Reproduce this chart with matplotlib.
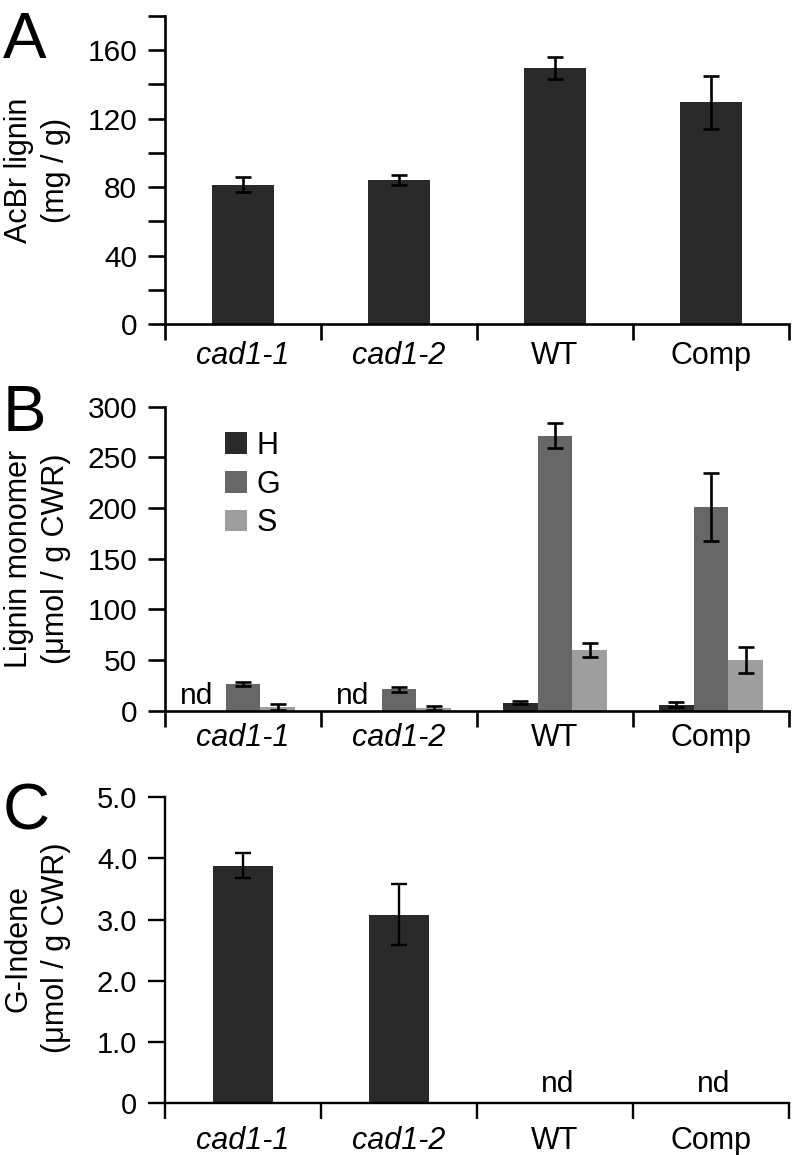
import matplotlib
matplotlib.use("Agg")
import matplotlib.pyplot as plt
from matplotlib.patches import Patch
import numpy as np

plt.rcParams['font.family'] = ['Liberation Sans', 'DejaVu Sans']

categories = ["cad1-1", "cad1-2", "WT", "Comp"]
italic_cats = [True, True, False, False]

# Panel A: AcBr lignin (mg/g)
acbr_mean = [81.5, 84, 149.5, 129.5]
acbr_err = [4.3, 3, 6.3, 15.6]

# Panel B: lignin monomers (umol / g CWR); nan = not detected
mono_H = [np.nan, np.nan, 8, 6]
mono_H_err = [0, 0, 1.5, 2.5]
mono_G = [26, 21, 271.5, 201]
mono_G_err = [2, 2.5, 12.5, 34]
mono_S = [3.5, 3, 60, 50]
mono_S_err = [3, 2, 7, 12.5]
series_names = ["H", "G", "S"]
series_colors = ["#2a2a2a", "#676767", "#9e9e9e"]

# Panel C: G-Indene (umol / g CWR); nan = not detected
gind_mean = [3.88, 3.08, np.nan, np.nan]
gind_err = [0.2, 0.5, 0, 0]

W, H = 797, 1155
DPI = 100
fig = plt.figure(figsize=(W / DPI, H / DPI), dpi=DPI)

def ax_rect(left, right, top, bottom):
    return [left / W, 1 - bottom / H, (right - left) / W, (bottom - top) / H]

x = np.arange(len(categories))
LW = 1.9
XFS = 22
YFS = 21.5

def style_axes(ax, xpad, lw=LW):
    for s in ["top", "right"]:
        ax.spines[s].set_visible(False)
    for s in ["left", "bottom"]:
        ax.spines[s].set_linewidth(lw)
    ax.set_xlim(-0.5, len(categories) - 0.5)
    ax.set_xticks(x)
    ax.set_xticklabels(categories, fontsize=XFS)
    for lab, it in zip(ax.get_xticklabels(), italic_cats):
        if it:
            lab.set_style("italic")
    ax.tick_params(axis="x", which="major", length=0, pad=xpad)
    ax.set_xticks(np.arange(len(categories) + 1) - 0.5, minor=True)
    ax.tick_params(axis="x", which="minor", direction="out", length=11.5, width=lw)
    ax.tick_params(axis="y", which="both", direction="out", length=12, width=lw, pad=8)

dark = "#2a2a2a"

# ---------- Panel A ----------
axA = fig.add_axes(ax_rect(165, 789, 16, 324))
axA.bar(x, acbr_mean, width=0.4, color=dark, zorder=2)
axA.errorbar(x, acbr_mean, yerr=acbr_err, fmt="none", ecolor="black",
             elinewidth=1.9, capsize=5.5, capthick=1.9, zorder=3)
axA.set_ylim(0, 180)
axA.set_yticks(np.arange(0, 181, 20))
axA.set_yticklabels([str(v) if v % 40 == 0 and v <= 160 else "" for v in range(0, 181, 20)],
                    fontsize=YFS)
style_axes(axA, xpad=12)

# ---------- Panel B ----------
axB = fig.add_axes(ax_rect(165, 789, 406.7, 710.7))
bw = 0.224
for k, (vals, errs, name, col) in enumerate(zip([mono_H, mono_G, mono_S],
                                                 [mono_H_err, mono_G_err, mono_S_err],
                                                 series_names, series_colors)):
    xs = x + (k - 1) * bw
    v = np.array(vals, dtype=float)
    e = np.array(errs, dtype=float)
    m = ~np.isnan(v)
    axB.bar(xs[m], v[m], width=bw, color=col, zorder=2)
    axB.errorbar(xs[m], v[m], yerr=e[m], fmt="none", ecolor="black",
                 elinewidth=1.9, capsize=5.5, capthick=1.9, zorder=3)
    for xi, vi in zip(xs, v):
        if np.isnan(vi):
            axB.text(xi - 0.075, 7, "nd", ha="center", va="baseline", fontsize=21.5)
axB.set_ylim(0, 300)
axB.set_yticks(np.arange(0, 301, 50))
axB.set_yticklabels([str(v) for v in range(0, 301, 50)], fontsize=YFS)
style_axes(axB, xpad=9)
handles = [Patch(facecolor=c, edgecolor="none") for c in series_colors]
fig.legend(handles, series_names, loc="upper left",
           bbox_to_anchor=(225 / W, 1 - 431 / H), frameon=False, fontsize=22,
           handlelength=0.72, handleheight=0.72, handletextpad=0.3,
           labelspacing=0.28, borderpad=0, borderaxespad=0)

# ---------- Panel C ----------
axC = fig.add_axes(ax_rect(165, 789, 797, 1103.3))
gm = np.array(gind_mean, dtype=float)
ge = np.array(gind_err, dtype=float)
mC = ~np.isnan(gm)
axC.bar(x[mC], gm[mC], width=0.39, color=dark, zorder=2)
axC.errorbar(x[mC], gm[mC], yerr=ge[mC], fmt="none", ecolor="black",
             elinewidth=1.7, capsize=6, capthick=1.7, zorder=3)
for xi, vi in zip(x, gm):
    if np.isnan(vi):
        axC.text(xi + 0.02, 0.19, "nd", ha="center", va="baseline", fontsize=21.5)
axC.set_ylim(0, 5.0)
axC.set_yticks(np.arange(0, 5.01, 1.0))
axC.set_yticklabels(["0", "1.0", "2.0", "3.0", "4.0", "5.0"], fontsize=21)
style_axes(axC, xpad=16, lw=1.7)

# ---------- y labels & panel letters ----------
fig.text(37.5 / W, 1 - 170 / H, "AcBr lignin\n(mg / g)", rotation=90,
         ha="center", va="center", fontsize=22, linespacing=1.33)
fig.text(37.5 / W, 1 - 559 / H, "Lignin monomer\n(μmol / g CWR)", rotation=90,
         ha="center", va="center", fontsize=22, linespacing=1.33)
fig.text(37.5 / W, 1 - 948 / H, "G-Indene\n(μmol / g CWR)", rotation=90,
         ha="center", va="center", fontsize=22, linespacing=1.33)

for lab, top in zip(["A", "B", "C"], [12, 385, 783]):
    fig.text(3 / W, 1 - (top - 1) / H, lab, ha="left", va="top", fontsize=47)

fig.savefig("out.png", dpi=DPI)
